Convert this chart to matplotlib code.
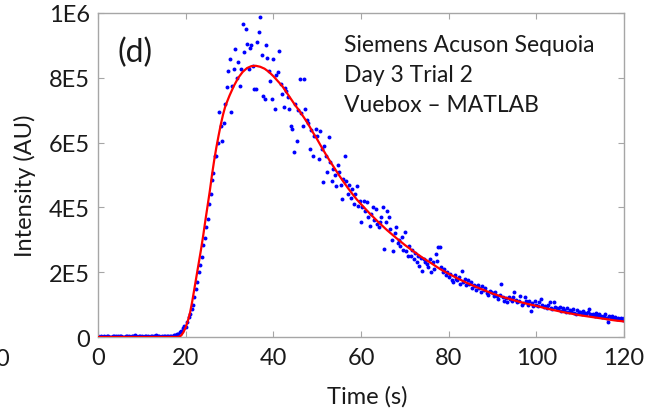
import matplotlib
matplotlib.use('Agg')
import matplotlib.pyplot as plt
import numpy as np

plt.rcParams['font.family'] = ['Lato', 'DejaVu Sans']

# measured intensity, 3 frames per second, in units of 1E3
intensity_k = [
    2, 1, 2, 1, 2, 1, 2, 3, 1, 1, 2, 2, 3, 1, 2, 2, 2, 1,
    1, 3, 2, 2, 1, 2, 3, 6, 2, 1, 2, 3, 2, 1, 2, 3, 2, 1,
    2, 3, 2, 4, 7, 3, 2, 1, 3, 2, 3, 2, 3, 2, 4, 3, 5, 6,
    8, 10, 14, 20, 28, 35, 32, 45, 62, 72, 86, 100,
    125, 148, 170, 200, 222, 248, 285, 305, 340, 364, 410, 440,
    485, 505, 560, 560, 600, 694, 650, 605, 660, 720, 772, 822,
    858, 694, 776, 827, 889, 800, 850, 775, 826, 966, 880, 951,
    905, 827, 892, 900, 835, 765, 765, 910, 942, 987, 870, 745,
    735, 900, 860, 820, 790, 735, 858, 704, 810, 818, 884, 780,
    750, 710, 770, 760, 740, 705, 650, 642, 570, 720, 606, 700,
    796, 690, 650, 796, 704, 670, 660, 580, 640, 559, 620, 642,
    620, 550, 637, 580, 478, 590, 560, 509, 617, 540, 481, 520,
    500, 467, 530, 510, 470, 426, 488, 560, 480, 440, 470, 430,
    457, 410, 440, 467, 405, 420, 355, 400, 420, 390, 416, 370,
    343, 380, 400, 360, 395, 350, 340, 355, 370, 400, 272, 355,
    390, 369, 333, 300, 266, 320, 340, 290, 300, 282, 310, 270,
    323, 265, 250, 282, 250, 270, 240, 260, 230, 250, 220, 245,
    205, 240, 230, 225, 215, 240, 200, 230, 210, 256, 235, 277,
    277, 215, 200, 210, 190, 200, 185, 195, 175, 169, 190, 180,
    175, 185, 165, 205, 170, 180, 160, 175, 165, 169, 150, 160,
    158, 145, 162, 150, 140, 158, 145, 150, 135, 130, 142, 138,
    135, 128, 140, 127, 118, 130, 164, 125, 110, 120, 107, 125,
    117, 110, 125, 138, 115, 107, 110, 127, 100, 105, 122, 112,
    100, 110, 81, 105, 97, 112, 100, 95, 108, 117, 98, 92,
    95, 88, 100, 107, 90, 85, 107, 92, 88, 85, 92, 80,
    90, 82, 78, 88, 76, 82, 80, 85, 75, 70, 82, 76,
    78, 72, 80, 74, 70, 78, 86, 72, 68, 70, 66, 74,
    68, 71, 64, 62, 66, 70, 60, 45, 64, 58, 64, 60,
    62, 56, 60, 55, 58, 52, 58,
]
frame_time = np.arange(len(intensity_k)) / 3.0

# fitted curve
fit_time = [0, 18, 18.5, 19, 19.5, 20, 20.5, 21, 21.5, 22, 22.5, 23, 23.5, 24,
            24.5, 25, 25.5, 26, 26.5, 27, 27.5, 28, 28.5, 29, 29.5, 30, 31, 32,
            33, 34, 35, 36, 37, 38, 39, 40, 41, 42, 43, 44, 45, 46, 47, 48, 49,
            50, 51, 52, 53, 54, 55, 56, 57, 58, 59, 60, 62, 64, 66, 68, 70, 72,
            74, 76, 78, 80, 82, 84, 86, 88, 90, 92, 94, 96, 98, 100, 102, 104,
            106, 108, 110, 112, 114, 116, 118, 120]
fit_k = [0, 0, 1, 5, 15, 30, 50, 75, 110, 150, 190, 230, 270, 313,
         360, 405, 450, 500, 545, 585, 621, 655, 685, 710, 728, 745, 775, 800,
         818, 830, 836, 837, 834, 828, 818, 805, 790, 775, 755, 735, 715, 697, 677, 656, 632,
         610, 586, 563, 541, 520, 499, 479, 460, 442, 425, 410, 381, 354, 329, 306, 284, 264,
         245, 228, 210, 195, 181, 168, 156, 145, 134, 125, 117, 109, 102, 96, 89, 83,
         77, 72, 67, 63, 59, 55, 51, 48]

yticks = [0, 2e5, 4e5, 6e5, 8e5, 1e6]
ytick_labels = ['0', '2E5', '4E5', '6E5', '8E5', '1E6']
xticks = [0, 20, 40, 60, 80, 100, 120]

fig = plt.figure(figsize=(6.46, 4.10), dpi=100)
ax = fig.add_axes([0.1517, 0.1756, 0.8143, 0.7903])

ax.scatter(frame_time, np.array(intensity_k) * 1e3, s=8, color='#0000ff',
           linewidths=0, zorder=2)
ax.plot(fit_time, np.array(fit_k) * 1e3, color='#ff0000', lw=1.6, zorder=3)

ax.set_xlim(0, 120)
ax.set_ylim(0, 1e6)
ax.set_xticks(xticks)
ax.set_yticks(yticks)
ax.set_yticklabels(ytick_labels)
for sp in ax.spines.values():
    sp.set_color('#a6a6a6')
    sp.set_linewidth(1.0)
ax.tick_params(direction='in', length=4, width=0.8, color='#a6a6a6',
               top=True, right=True, labelsize=17, labelcolor='#1a1a1a')
ax.tick_params(axis='x', pad=7)
ax.tick_params(axis='y', pad=6)

ax.set_xlabel('Time (s)', fontsize=17, color='#1a1a1a')
ax.set_ylabel('Intensity (AU)', fontsize=17, color='#1a1a1a')
ax.xaxis.set_label_coords(0.511, -0.182)
ax.yaxis.set_label_coords(-0.139, 0.469)
ax.xaxis.label.set_va('center')
ax.yaxis.label.set_va('center')

ax.text(0.038, 0.850, '(d)', transform=ax.transAxes, fontsize=23,
        va='baseline', color='#1a1a1a')
lines = ['Siemens Acuson Sequoia', 'Day 3 Trial 2', 'Vuebox \u2013 MATLAB']
for txt, yy in zip(lines, [0.883, 0.790, 0.698]):
    ax.text(0.468, yy, txt, transform=ax.transAxes, fontsize=16.5,
            va='baseline', color='#1a1a1a')

# clipped label of neighbouring panel
fig.text(9 / 646, 0.122, '0', ha='right', va='center', fontsize=17,
         color='#1a1a1a')

fig.savefig('out.png', dpi=100)
